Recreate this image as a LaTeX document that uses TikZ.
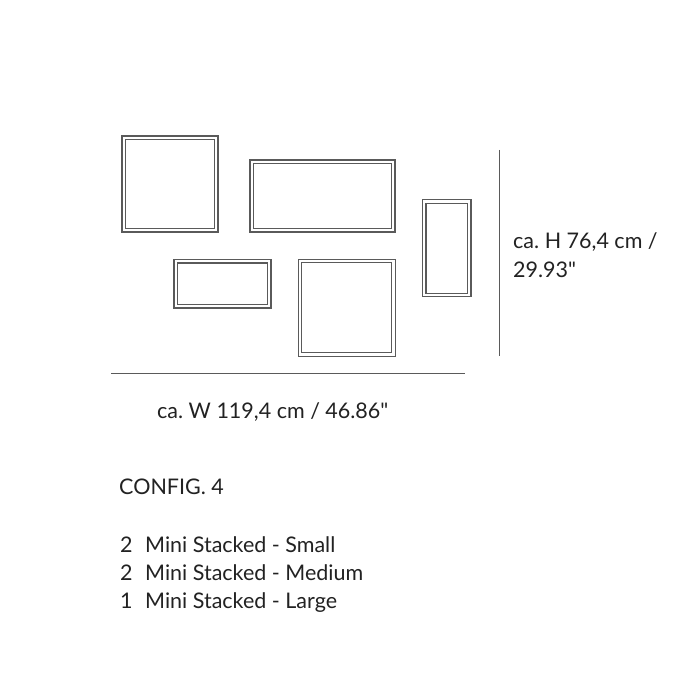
\documentclass[tikz,border=0pt]{standalone}
\usepackage{fontspec}
\setmainfont{Lato}[Ligatures=TeXOff]
\begin{document}
\frenchspacing
\begin{tikzpicture}[x=1pt,y=-1pt]
\definecolor{linegray}{HTML}{5A5A5A}
\definecolor{textgray}{HTML}{222222}
\tikzset{
  frame/.style={draw=linegray, line width=1.1pt, double=white, double distance=2.2pt, inner sep=0pt, outer sep=0pt},
  dimline/.style={draw=linegray, line width=1.2pt},
  lbl/.style={anchor=base west, inner sep=0pt, text=textgray, font=\fontsize{21.5}{25}\selectfont}
}
\useasboundingbox (0,0) rectangle (700,700);
\fill[white] (0,0) rectangle (700,700);
\node[frame, minimum width=92.7pt, minimum height=92.7pt] (b1) at (170,184) {};
\node[frame, minimum width=141.7pt, minimum height=68.7pt] (b2) at (322.5,196) {};
\node[frame, minimum width=93.7pt, minimum height=45pt] (b3) at (222.5,283.8) {};
\node[frame, minimum width=93.4pt, minimum height=93.4pt] (b4) at (346.7,307.7) {};
\node[frame, minimum width=45pt, minimum height=93.4pt] (b5) at (446.8,248.3) {};
\coordinate (h1) at (111,373.3);
\coordinate (h2) at (465,373.3);
\coordinate (v1) at (499.3,150);
\coordinate (v2) at (499.3,356);
\draw[dimline] (h1) -- (h2);
\draw[dimline] (v1) -- (v2);
\node[lbl] (w) at (157,418) {ca. W 119,4 cm / 46.86"};
\node[lbl] (h) at (513,248) {ca. H 76,4 cm /};
\node[lbl] (h2t) at (513,277) {29.93"};
\node[lbl] (cfg) at (119,494) {CONFIG. 4};
\node[lbl] (n1) at (120,552) {2};
\node[lbl] (t1) at (145,552) {Mini Stacked - Small};
\node[lbl] (n2) at (120,580) {2};
\node[lbl] (t2) at (145,580) {Mini Stacked - Medium};
\node[lbl] (n3) at (120,608) {1};
\node[lbl] (t3) at (145,608) {Mini Stacked - Large};
\end{tikzpicture}
\end{document}
